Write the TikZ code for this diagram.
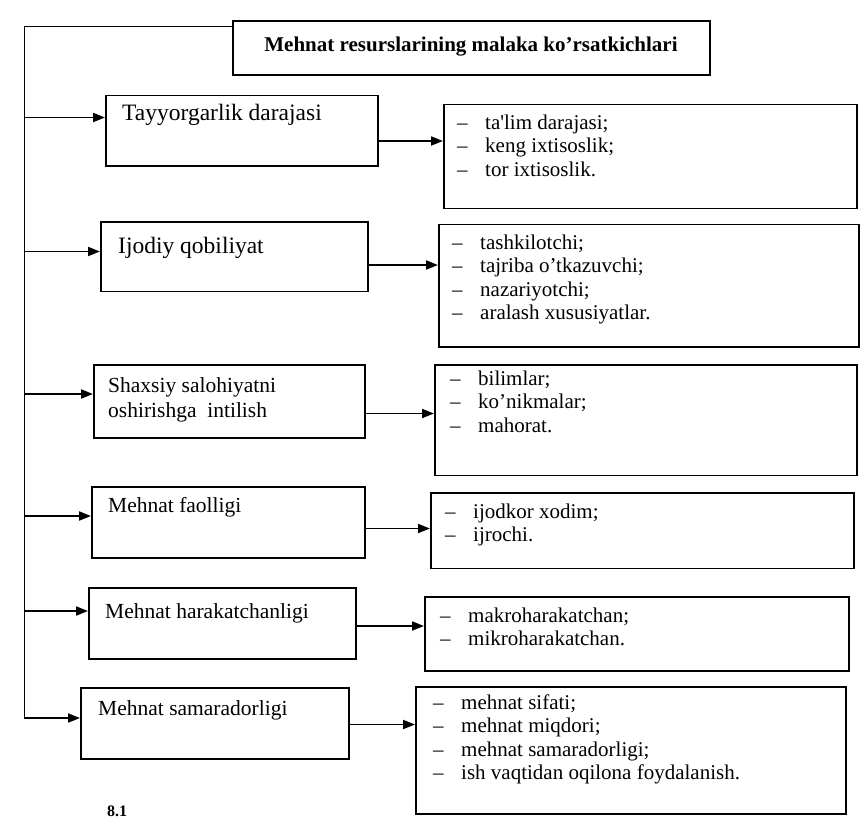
\documentclass[tikz,border=0pt]{standalone}
\usepackage{fontspec}
\setmainfont{Liberation Serif}
\usetikzlibrary{arrows.meta}
\newcommand{\dashitem}[1]{\makebox[28pt][l]{–}#1}
\begin{document}
\begin{tikzpicture}[x=1pt,y=-1pt,
  box/.style={draw, line width=1.8pt, rectangle, inner sep=0pt, anchor=north west},
  lbl/.style={anchor=base west, inner sep=0pt, font=\fontsize{21.5}{25}\selectfont},
  biglbl/.style={anchor=base west, inner sep=0pt, font=\fontsize{23.5}{27}\selectfont},
  lst/.style={anchor=base west, inner sep=0pt, font=\fontsize{21}{23.5}\selectfont},
  ttl/.style={anchor=base, inner sep=0pt, font=\bfseries\fontsize{21}{25}\selectfont},
  arr/.style={line width=1.8pt, -{Triangle[length=12pt,width=9pt]}}
]
\useasboundingbox (0,0) rectangle (863,819);
\fill[white] (0,0) rectangle (863,819);

% title
\node[box, minimum width=477pt, minimum height=54pt] (t) at (232,20) {};
\node[ttl] (tt) at (471,51) {Mehnat resurslarining malaka ko’rsatkichlari};

% left boxes
\node[box, minimum width=272pt, minimum height=70.5pt] (b1) at (105,94.5) {};
\node[box, minimum width=267pt, minimum height=69.5pt] (b2) at (100,221) {};
\node[box, minimum width=271pt, minimum height=73pt]   (b3) at (93,364) {};
\node[box, minimum width=273pt, minimum height=71pt]   (b4) at (91,486) {};
\node[box, minimum width=267pt, minimum height=71pt]   (b5) at (88,587) {};
\node[box, minimum width=268pt, minimum height=71pt]   (b6) at (80,687) {};

\node[biglbl] (l1) at (122,120) {Tayyorgarlik darajasi};
\node[biglbl] (l2) at (118,253) {Ijodiy qobiliyat};
\node[lbl] (l3) at (108,392) {\begin{tabular}[t]{@{}l@{}}Shaxsiy salohiyatni\\oshirishga\ \ intilish\end{tabular}};
\node[lbl] (l4) at (108,512) {Mehnat faolligi};
\node[lbl] (l5) at (105,618) {Mehnat harakatchanligi};
\node[lbl] (l6) at (98,715) {Mehnat samaradorligi};

% right boxes
\node[box, minimum width=413pt, minimum height=104pt]   (r1) at (443,103.5) {};
\node[box, minimum width=420pt, minimum height=122.5pt] (r2) at (438,223.5) {};
\node[box, minimum width=422pt, minimum height=110.5pt] (r3) at (434,364) {};
\node[box, minimum width=423pt, minimum height=75.5pt]  (r4) at (430,492) {};
\node[box, minimum width=424pt, minimum height=74pt]    (r5) at (424,596) {};
\node[box, minimum width=430pt, minimum height=127pt]   (r6) at (415,686) {};

\node[lst] (s1) at (457,129) {\begin{tabular}[t]{@{}l@{}}\dashitem{ta\textquotesingle lim darajasi;}\\\dashitem{keng ixtisoslik;}\\\dashitem{tor ixtisoslik.}\end{tabular}};
\node[lst] (s2) at (452,249) {\begin{tabular}[t]{@{}l@{}}\dashitem{tashkilotchi;}\\\dashitem{tajriba o’tkazuvchi;}\\\dashitem{nazariyotchi;}\\\dashitem{aralash xususiyatlar.}\end{tabular}};
\node[lst] (s3) at (450,385) {\begin{tabular}[t]{@{}l@{}}\dashitem{bilimlar;}\\\dashitem{ko’nikmalar;}\\\dashitem{mahorat.}\end{tabular}};
\node[lst] (s4) at (445,518) {\begin{tabular}[t]{@{}l@{}}\dashitem{ijodkor xodim;}\\\dashitem{ijrochi.}\end{tabular}};
\node[lst] (s5) at (440,622) {\begin{tabular}[t]{@{}l@{}}\dashitem{makroharakatchan;}\\\dashitem{mikroharakatchan.}\end{tabular}};
\node[lst] (s6) at (433,709) {\begin{tabular}[t]{@{}l@{}}\dashitem{mehnat sifati;}\\\dashitem{mehnat miqdori;}\\\dashitem{mehnat samaradorligi;}\\\dashitem{ish vaqtidan oqilona foydalanish.}\end{tabular}};

% trunk line
\coordinate (vt) at (24.5,26.5);
\coordinate (vb) at (24.5,718);
\draw[arr] (t.west |- vt) -- (vt) -- (vb) -- (vb -| b6.west);

\coordinate (a1) at (24.5,117.5);
\coordinate (a2) at (24.5,251.5);
\coordinate (a3) at (24.5,394);
\coordinate (a4) at (24.5,516);
\coordinate (a5) at (24.5,611);
\draw[arr] (a1) -- (a1 -| b1.west);
\draw[arr] (a2) -- (a2 -| b2.west);
\draw[arr] (a3) -- (a3 -| b3.west);
\draw[arr] (a4) -- (a4 -| b4.west);
\draw[arr] (a5) -- (a5 -| b5.west);

% box to list
\draw[arr] (b1.east |- 0,141)   -- (r1.west |- 0,141);
\draw[arr] (b2.east |- 0,265)   -- (r2.west |- 0,265);
\draw[arr] (b3.east |- 0,413.5) -- (r3.west |- 0,413.5);
\draw[arr] (b4.east |- 0,528.5) -- (r4.west |- 0,528.5);
\draw[arr] (b5.east |- 0,626)   -- (r5.west |- 0,626);
\draw[arr] (b6.east |- 0,724.5) -- (r6.west |- 0,724.5);

% caption fragment
\node[ttl, anchor=base west, font=\bfseries\fontsize{16}{18}\selectfont] (cap) at (107,816) {8.1};
\end{tikzpicture}
\end{document}
